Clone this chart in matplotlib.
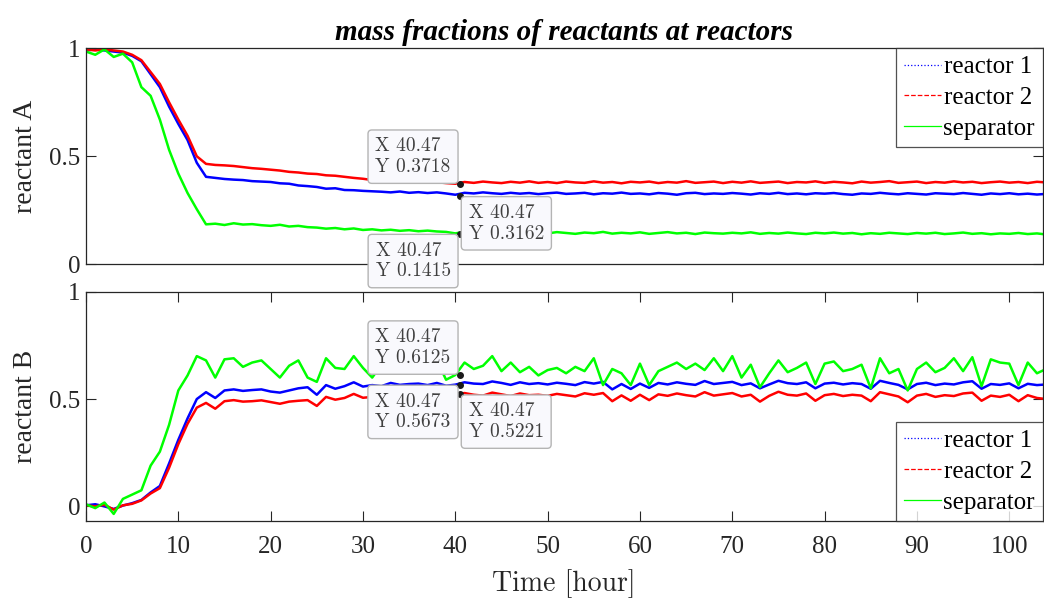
import matplotlib.pyplot as plt
from matplotlib.lines import Line2D

# time axis [hour], one sample per hour
time = list(range(0, 105))

# reactant A (top panel)
a_reactor1 = [0.99, 0.995, 0.99, 0.985, 0.98, 0.965, 0.94, 0.88, 0.82, 0.73,
              0.65, 0.575, 0.47, 0.405, 0.40, 0.395, 0.392, 0.39, 0.385, 0.383,
              0.381, 0.375, 0.373, 0.365, 0.362, 0.358, 0.350, 0.352, 0.344, 0.343,
              0.340, 0.338, 0.336, 0.333, 0.337, 0.331, 0.334, 0.330, 0.333, 0.328,
              0.322, 0.331, 0.328, 0.333, 0.329, 0.326, 0.331, 0.327, 0.330, 0.325,
              0.329, 0.332, 0.326, 0.328, 0.331, 0.324, 0.329, 0.327, 0.332, 0.326,
              0.328, 0.324, 0.330, 0.327, 0.322, 0.329, 0.331, 0.325, 0.328, 0.326,
              0.330, 0.327, 0.323, 0.329, 0.326, 0.331, 0.325, 0.328, 0.324, 0.329,
              0.327, 0.330, 0.325, 0.322, 0.328, 0.326, 0.331, 0.327, 0.324, 0.329,
              0.326, 0.323, 0.329, 0.327, 0.325, 0.330, 0.326, 0.322, 0.328, 0.325,
              0.329, 0.324, 0.327, 0.323, 0.326]
a_reactor2 = [0.995, 0.99, 0.995, 0.99, 0.985, 0.97, 0.945, 0.89, 0.835, 0.75,
              0.67, 0.595, 0.50, 0.465, 0.46, 0.458, 0.455, 0.45, 0.445, 0.442,
              0.438, 0.434, 0.428, 0.425, 0.42, 0.418, 0.412, 0.41, 0.405, 0.40,
              0.396, 0.390, 0.391, 0.385, 0.387, 0.381, 0.384, 0.378, 0.380, 0.376,
              0.373, 0.381, 0.377, 0.383, 0.379, 0.376, 0.382, 0.378, 0.384, 0.377,
              0.381, 0.376, 0.383, 0.379, 0.377, 0.384, 0.378, 0.381, 0.375, 0.382,
              0.379, 0.383, 0.376, 0.381, 0.378, 0.385, 0.377, 0.380, 0.383, 0.376,
              0.382, 0.378, 0.384, 0.377, 0.380, 0.383, 0.376, 0.381, 0.379, 0.384,
              0.377, 0.382, 0.379, 0.375, 0.383, 0.378, 0.381, 0.385, 0.377, 0.380,
              0.383, 0.376, 0.381, 0.378, 0.384, 0.379, 0.382, 0.376, 0.380, 0.383,
              0.378, 0.381, 0.376, 0.382, 0.379]
a_separator = [0.985, 0.97, 0.995, 0.96, 0.975, 0.935, 0.82, 0.78, 0.67, 0.53,
               0.42, 0.33, 0.255, 0.185, 0.188, 0.182, 0.19, 0.184, 0.186, 0.181,
               0.178, 0.183, 0.175, 0.178, 0.172, 0.17, 0.165, 0.168, 0.162, 0.166,
               0.159, 0.162, 0.157, 0.16, 0.155, 0.158, 0.153, 0.156, 0.152, 0.15,
               0.143, 0.151, 0.147, 0.153, 0.146, 0.149, 0.144, 0.15, 0.145, 0.148,
               0.143, 0.149, 0.145, 0.141, 0.147, 0.144, 0.15, 0.142, 0.146, 0.143,
               0.148, 0.141, 0.145, 0.149, 0.143, 0.146, 0.14, 0.147, 0.144, 0.142,
               0.146, 0.143, 0.148, 0.141, 0.145, 0.142, 0.147, 0.143, 0.14, 0.146,
               0.143, 0.147, 0.142, 0.145, 0.139, 0.144, 0.141, 0.146, 0.143, 0.14,
               0.145, 0.142, 0.146, 0.14, 0.143, 0.147, 0.141, 0.144, 0.139, 0.143,
               0.141, 0.145, 0.14, 0.143, 0.138]

# reactant B (bottom panel)
b_reactor1 = [0.005, 0.01, 0.0, -0.012, 0.004, 0.015, 0.03, 0.065, 0.095, 0.20,
              0.31, 0.41, 0.50, 0.532, 0.505, 0.54, 0.545, 0.538, 0.542, 0.545,
              0.535, 0.53, 0.54, 0.55, 0.555, 0.52, 0.565, 0.548, 0.56, 0.578,
              0.558, 0.565, 0.56, 0.575, 0.566, 0.57, 0.572, 0.565, 0.575, 0.562,
              0.567, 0.578, 0.572, 0.57, 0.582, 0.575, 0.566, 0.578, 0.57, 0.574,
              0.568, 0.576, 0.571, 0.565, 0.579, 0.572, 0.58, 0.545, 0.57, 0.547,
              0.572, 0.552, 0.575, 0.568, 0.578, 0.571, 0.566, 0.584, 0.57, 0.575,
              0.58, 0.565, 0.573, 0.55, 0.568, 0.585, 0.574, 0.57, 0.578, 0.55,
              0.572, 0.576, 0.568, 0.574, 0.57, 0.548, 0.585, 0.575, 0.566, 0.545,
              0.57, 0.576, 0.565, 0.572, 0.568, 0.578, 0.583, 0.548, 0.57, 0.566,
              0.573, 0.55, 0.571, 0.565, 0.568]
b_reactor2 = [0.005, 0.0, 0.008, -0.015, 0.005, 0.012, 0.028, 0.06, 0.085, 0.18,
              0.29, 0.385, 0.46, 0.482, 0.455, 0.49, 0.495, 0.488, 0.49, 0.494,
              0.486, 0.478, 0.488, 0.492, 0.495, 0.468, 0.51, 0.497, 0.505, 0.524,
              0.506, 0.51, 0.512, 0.52, 0.515, 0.518, 0.52, 0.512, 0.522, 0.51,
              0.522, 0.528, 0.52, 0.516, 0.53, 0.522, 0.514, 0.526, 0.518, 0.52,
              0.515, 0.524, 0.518, 0.512, 0.527, 0.52, 0.528, 0.49, 0.517, 0.492,
              0.52, 0.495, 0.522, 0.515, 0.526, 0.518, 0.512, 0.532, 0.516, 0.522,
              0.528, 0.512, 0.52, 0.488, 0.515, 0.534, 0.52, 0.516, 0.526, 0.492,
              0.518, 0.524, 0.514, 0.52, 0.516, 0.49, 0.532, 0.522, 0.512, 0.485,
              0.516, 0.524, 0.51, 0.518, 0.514, 0.526, 0.53, 0.492, 0.516, 0.51,
              0.52, 0.49, 0.518, 0.505, 0.50]
b_separator = [0.01, -0.008, 0.018, -0.035, 0.035, 0.055, 0.075, 0.19, 0.255, 0.38,
               0.54, 0.61, 0.70, 0.68, 0.60, 0.685, 0.69, 0.65, 0.67, 0.68,
               0.64, 0.60, 0.655, 0.68, 0.60, 0.58, 0.69, 0.645, 0.64, 0.70,
               0.645, 0.60, 0.66, 0.63, 0.69, 0.65, 0.67, 0.62, 0.68, 0.59,
               0.612, 0.67, 0.64, 0.655, 0.70, 0.63, 0.67, 0.625, 0.65, 0.61,
               0.635, 0.645, 0.62, 0.65, 0.63, 0.69, 0.565, 0.64, 0.62, 0.565,
               0.665, 0.565, 0.63, 0.65, 0.67, 0.64, 0.665, 0.635, 0.69, 0.63,
               0.70, 0.60, 0.66, 0.555, 0.62, 0.68, 0.625, 0.645, 0.67, 0.57,
               0.665, 0.675, 0.63, 0.64, 0.66, 0.55, 0.69, 0.62, 0.64, 0.54,
               0.64, 0.67, 0.625, 0.645, 0.69, 0.63, 0.695, 0.56, 0.685, 0.67,
               0.665, 0.565, 0.67, 0.62, 0.64]

labels = ['reactor 1', 'reactor 2', 'separator']
colors = ['#0000ff', '#ff0000', '#00ff00']
styles = [':', '--', '-']

# data tips: (value, text alignment, offset in pixels)
tip_time = 40.47
tips_a = [(0.3718, 'right', 'bottom', -9, 8),
          (0.3162, 'left', 'top', 9, -8),
          (0.1415, 'right', 'top', -9, -8)]
tips_b = [(0.6125, 'right', 'bottom', -9, 8),
          (0.5673, 'right', 'top', -9, -8),
          (0.5221, 'left', 'top', 9, -8)]

W, H = 1044, 603
fig = plt.figure(figsize=(W / 100, H / 100), dpi=100)
ax1 = fig.add_axes([86 / W, 1 - 264.3 / H, 956.5 / W, 216 / H])
ax2 = fig.add_axes([86 / W, 1 - 521 / H, 956.5 / W, 229.3 / H])

dark = '#262626'
serif = 'Liberation Serif'


def draw_tip(ax, value, ha, va, dx, dy):
    ax.plot(tip_time, value, 'o', ms=4, color='#1a1a1a', zorder=6, clip_on=False)
    ax.annotate(f'X {tip_time:.2f}\nY {value:.4f}', xy=(tip_time, value),
                xytext=(dx, dy), textcoords='offset pixels', ha=ha, va=va,
                multialignment='left',
                fontfamily='cmr10', fontsize=14, color='#404040',
                bbox=dict(boxstyle='round,pad=0.38,rounding_size=0.2',
                          fc='#f9f9fd', ec='#b4b4b4', lw=1),
                zorder=7, annotation_clip=False)


for ax, series, tips, ylabel, loc in [
        (ax1, [a_reactor1, a_reactor2, a_separator], tips_a, 'reactant A', 'upper right'),
        (ax2, [b_reactor1, b_reactor2, b_separator], tips_b, 'reactant B', 'lower right')]:
    for vals, c in zip(series, colors):
        ax.plot(time, vals, color=c, lw=1.8)
    for t in tips:
        draw_tip(ax, *t)
    handles = [Line2D([], [], color=c, ls=s, lw=0.9) for c, s in zip(colors, styles)]
    leg = ax.legend(handles, labels, loc=loc, borderaxespad=0, fancybox=False,
                    handlelength=1.5, handletextpad=0.1, borderpad=0.3,
                    labelspacing=0.33, prop={'family': serif, 'size': 18})
    leg.get_frame().set_edgecolor(dark)
    leg.get_frame().set_linewidth(0.9)
    leg.set_zorder(8)
    ax.set_xlim(0, 103.6)
    ax.set_ylabel(ylabel, fontfamily=serif, fontsize=20, color=dark, labelpad=8)
    for s in ax.spines.values():
        s.set_color(dark)
        s.set_linewidth(0.9)
    ax.tick_params(direction='in', length=7.5, width=0.8, colors=dark,
                   labelsize=18, pad=4, right=True)

ax1.set_ylim(0, 1)
ax1.set_yticks([0, 0.5, 1], ['0', '0.5', '1'], fontfamily=serif)
ax1.set_xticks([])
ax1.set_title('mass fractions of reactants at reactors', fontfamily=serif,
              fontsize=21, fontweight='bold', fontstyle='italic', pad=6)

ax2.set_ylim(-0.068, 1)
ax2.set_yticks([0, 0.5, 1], ['0', '0.5', '1'], fontfamily=serif)
ax2.set_xticks(range(0, 101, 10), [str(v) for v in range(0, 101, 10)], fontfamily=serif)
ax2.tick_params(axis='x', top=True, pad=11)
ax2.set_xlabel('Time [hour]', fontfamily='cmr10', fontsize=20, color=dark, labelpad=8)

fig.savefig('out.png', dpi=100)
